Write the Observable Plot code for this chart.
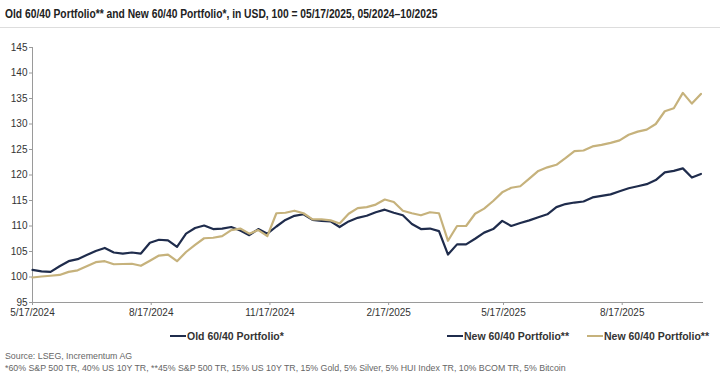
<!DOCTYPE html>
<html>
<head>
<meta charset="utf-8">
<script src="https://cdn.jsdelivr.net/npm/d3@7"></script>
<script src="https://cdn.jsdelivr.net/npm/@observablehq/plot@0.6"></script>
<style>
  html, body { margin: 0; padding: 0; background: #fff; }
  body { width: 720px; height: 376px; position: relative; overflow: hidden; font-family: "Liberation Sans", Arial, sans-serif; color: #333; }
  #title { position: absolute; left: 5px; top: 6px; font-size: 13px; font-weight: bold; color: #222; white-space: nowrap; transform: scaleX(0.79); transform-origin: 0 0; }
  #rule { position: absolute; left: 0; top: 27px; width: 720px; height: 1px; background: #ddd; }
  #chart { position: absolute; left: 0; top: 30px; }
  .leg { position: absolute; top: 330px; font-size: 10.5px; font-weight: bold; color: #333; white-space: nowrap; display: flex; align-items: center; }
  .sw { display: inline-block; width: 16px; height: 2.5px; margin-right: 1px; }
  #src { position: absolute; left: 5px; top: 351px; font-size: 8.8px; color: #666; white-space: nowrap; }
  #foot { position: absolute; left: 5px; top: 363px; font-size: 8.8px; color: #666; white-space: nowrap; }
</style>
</head>
<body>
<div id="title"></div>
<div id="rule"></div>
<div id="chart"></div>
<div id="legend"></div>
<div id="src"></div>
<div id="foot"></div>
<script>
const titleText = "Old 60/40 Portfolio** and New 60/40 Portfolio*, in USD, 100 = 05/17/2025, 05/2024\u201310/2025";
const sourceText = "Source: LSEG, Incrementum AG";
const footText = "*60% S&P 500 TR, 40% US 10Y TR, **45% S&P 500 TR, 15% US 10Y TR, 15% Gold, 5% Silver, 5% HUI Index TR, 10% BCOM TR, 5% Bitcoin";

// Weekly observations, 2024-05-17 .. 2025-10-17
const startDate = "2024-05-17";
const endDate = "2025-10-17";

const oldPortfolio = [
  101.4, 101.1, 101.0, 102.1, 103.1, 103.5, 104.3, 105.1, 105.7, 104.8,
  104.6, 104.8, 104.6, 106.7, 107.3, 107.2, 105.9, 108.5, 109.6, 110.1,
  109.4, 109.5, 109.8, 109.1, 108.2, 109.4, 108.5, 109.9, 111.2, 112.0,
  112.3, 111.2, 111.0, 110.9, 109.8, 110.9, 111.6, 112.0, 112.7, 113.2,
  112.6, 112.1, 110.4, 109.4, 109.5, 109.0, 104.4, 106.4, 106.4, 107.5,
  108.7, 109.4, 111.0, 110.0, 110.6, 111.1, 111.7, 112.3, 113.7, 114.3,
  114.6, 114.8, 115.6, 115.9, 116.2, 116.8, 117.4, 117.8, 118.2, 119.0,
  120.5, 120.8, 121.3, 119.5, 120.2
];

const newPortfolio = [
  99.9, 100.1, 100.25, 100.4, 101.0, 101.3, 102.1, 102.9, 103.1, 102.5,
  102.55, 102.6, 102.2, 103.2, 104.2, 104.4, 103.1, 104.9, 106.3, 107.6,
  107.7, 108.0, 109.2, 109.5, 108.5, 109.2, 108.0, 112.5, 112.6, 113.0,
  112.5, 111.3, 111.3, 111.1, 110.5, 112.4, 113.5, 113.7, 114.2, 115.2,
  114.7, 113.0, 112.5, 112.1, 112.7, 112.5, 107.1, 110.0, 110.0, 112.4,
  113.4, 114.9, 116.6, 117.5, 117.8, 119.3, 120.8, 121.5, 122.0, 123.3,
  124.7, 124.8, 125.6, 125.9, 126.3, 126.8, 127.9, 128.5, 128.9, 130.0,
  132.5, 133.1, 136.1, 134.0, 135.9
];

const xTickDates = ["2024-05-17", "2024-08-17", "2024-11-17", "2025-02-17", "2025-05-17", "2025-08-17"];
const yTicks = [95, 100, 105, 110, 115, 120, 125, 130, 135, 140, 145];

const legendLabels = ["Old 60/40 Portfolio*", "New 60/40 Portfolio**", "New 60/40 Portfolio**"];
const navy = "#1f2c4c";
const gold = "#c6b27c";
const legendColors = [navy, navy, gold];
const legendLeft = [170, 447, 587];

const parse = d3.utcParse("%Y-%m-%d");
const dates = d3.utcDay.range(parse(startDate), d3.utcDay.offset(parse(endDate), 1), 7);

const oldData = dates.map((d, i) => ({date: d, value: oldPortfolio[i]}));
const newData = dates.map((d, i) => ({date: d, value: newPortfolio[i]}));

const fmt = d => `${d.getUTCMonth() + 1}/${d.getUTCDate()}/${d.getUTCFullYear()}`;
const x0 = parse(startDate);

const chart = Plot.plot({
  width: 720,
  height: 295,
  marginTop: 17,
  marginBottom: 23,
  marginLeft: 32,
  marginRight: 17,
  style: {fontFamily: "'Liberation Sans', Arial, sans-serif", fontSize: "10px", color: "#333", background: "#fff"},
  x: {type: "utc", domain: [x0, parse("2025-10-19")]},
  y: {domain: [95, 145]},
  marks: [
    Plot.ruleY([95], {stroke: "#9a9a9a", strokeWidth: 1}),
    Plot.ruleX([x0], {stroke: "#9a9a9a", strokeWidth: 1}),
    Plot.axisY({ticks: yTicks, tickSize: 3, tickPadding: 2, stroke: "#9a9a9a", fill: "#333", label: null}),
    Plot.axisX({ticks: xTickDates.map(parse), tickFormat: fmt, tickSize: 3, tickPadding: 3, stroke: "#9a9a9a", fill: "#333", label: null}),
    Plot.line(oldData, {x: "date", y: "value", stroke: navy, strokeWidth: 2.2}),
    Plot.line(newData, {x: "date", y: "value", stroke: gold, strokeWidth: 2.2})
  ]
});
document.getElementById("chart").appendChild(chart);

document.getElementById("title").textContent = titleText;
document.getElementById("src").textContent = sourceText;
document.getElementById("foot").textContent = footText;

const legend = document.getElementById("legend");
legendLabels.forEach((lab, i) => {
  const el = document.createElement("div");
  el.className = "leg";
  el.style.left = legendLeft[i] + "px";
  const sw = document.createElement("span");
  sw.className = "sw";
  sw.style.background = legendColors[i];
  el.appendChild(sw);
  el.appendChild(document.createTextNode(lab));
  legend.appendChild(el);
});
</script>
</body>
</html>
